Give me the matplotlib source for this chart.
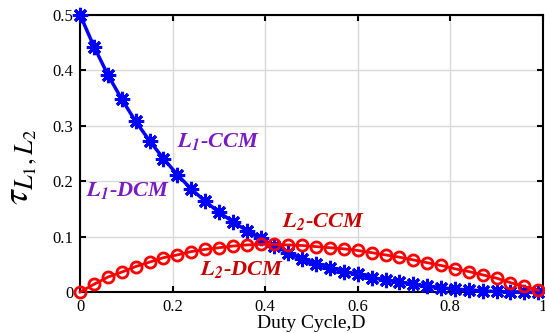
import numpy as np
import matplotlib
matplotlib.use('Agg')
import matplotlib.pyplot as plt

# duty cycle samples (step 0.03)
D = np.arange(34) * 0.03

# tau for L1 (blue) and L2 (red)
tau_L1 = [0.500, 0.443, 0.392, 0.348, 0.308, 0.273, 0.241, 0.212, 0.186, 0.164,
          0.144, 0.127, 0.111, 0.097, 0.083, 0.071, 0.060, 0.051, 0.043, 0.037,
          0.032, 0.026, 0.022, 0.018, 0.014, 0.010, 0.008, 0.005, 0.004, 0.002,
          0.001, 0.0005, 0.0, 0.0]
tau_L2 = [0.000, 0.014, 0.027, 0.036, 0.046, 0.054, 0.062, 0.067, 0.073, 0.077,
          0.080, 0.083, 0.085, 0.086, 0.086, 0.085, 0.084, 0.082, 0.080, 0.078,
          0.075, 0.071, 0.067, 0.063, 0.058, 0.053, 0.048, 0.042, 0.037, 0.031,
          0.025, 0.017, 0.010, 0.003]

xticks = [0, 0.2, 0.4, 0.6, 0.8, 1]
xticklabels = ['0', '0.2', '0.4', '0.6', '0.8', '1']
yticks = [0, 0.1, 0.2, 0.3, 0.4, 0.5]
yticklabels = ['0', '0.1', '0.2', '0.3', '0.4', '0.5']

plt.rcParams['font.family'] = ['Liberation Serif', 'DejaVu Serif']
plt.rcParams['mathtext.fontset'] = 'stix'

fig = plt.figure(figsize=(5.45, 3.33), dpi=100)
ax = fig.add_axes([0.147, 0.123, 0.849, 0.832])

ax.plot(D, tau_L1, color='#0000ff', lw=2.5, marker=(8, 2, 0), ms=11, mew=2.2,
        clip_on=False, zorder=3)
ax.plot(D, tau_L2, color='#ff0000', lw=2, marker='o', ms=8, mew=2,
        mfc='none', clip_on=False, zorder=4)

ax.set_xlim(0, 1)
ax.set_ylim(0, 0.5)
ax.set_xticks(xticks)
ax.set_xticklabels(xticklabels)
ax.set_yticks(yticks)
ax.set_yticklabels(yticklabels)
ax.grid(True, color='#d9d9d9', lw=1)
ax.set_axisbelow(True)
ax.tick_params(direction='in', length=4, width=1.5, labelsize=12,
               top=True, right=True, pad=5)
for s in ax.spines.values():
    s.set_linewidth(1.5)

ax.set_xlabel('Duty Cycle,D', fontsize=14, labelpad=0)
fig.text(0.008, 0.50, r'$\tau_{L_1,L_2}$', rotation=90, ha='left',
         va='center', fontsize=27)

lab = dict(fontsize=16, fontweight='bold', style='italic')
purple = '#7a1cc4'
darkred = '#c80000'
ax.text(0.209, 0.271, r'$\mathbfit{L}_{\mathbfit{1}}$-CCM', color=purple,
        va='center', **lab)
ax.text(0.013, 0.184, r'$\mathbfit{L}_{\mathbfit{1}}$-DCM', color=purple,
        va='center', **lab)
ax.text(0.436, 0.127, r'$\mathbfit{L}_{\mathbfit{2}}$-CCM', color=darkred,
        va='center', **lab)
ax.text(0.259, 0.040, r'$\mathbfit{L}_{\mathbfit{2}}$-DCM', color=darkred,
        va='center', **lab)

fig.savefig('out.png', dpi=100)
